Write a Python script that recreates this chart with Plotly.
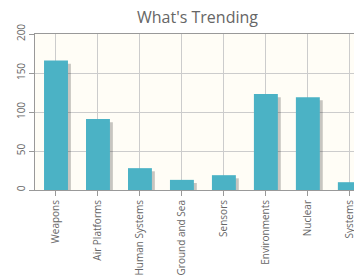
import plotly.graph_objects as go

categories = ["Weapons", "Air Platforms", "Human Systems", "Ground and Sea",
              "Sensors", "Environments", "Nuclear", "Systems"]
values = [166, 91, 28, 13, 19, 123, 119, 10]
y_ticks = [0, 50, 100, 150, 200]

BAR_W = 0.57
SHADOW_DX = 0.07
SHADOW_DY = 4

# the page body adds an 8px margin, so the figure is 8px smaller than the window
PAGE = 8
W, H = 362 - PAGE, 275 - PAGE

fig = go.Figure()
# shadow
fig.add_trace(go.Bar(
    x=list(range(len(categories))),
    y=[max(v - SHADOW_DY, 0) for v in values],
    width=BAR_W, offset=-BAR_W / 2 + SHADOW_DX,
    marker=dict(color="rgba(0,0,0,0.22)", line=dict(width=0)),
    hoverinfo="skip", showlegend=False,
))
fig.add_trace(go.Bar(
    x=list(range(len(categories))),
    y=values,
    width=BAR_W, offset=-BAR_W / 2,
    marker=dict(color="#4bb2c5", line=dict(width=0)),
    showlegend=False,
))

fig.update_layout(
    width=W, height=H,
    margin=dict(l=35 - PAGE, r=0, t=34 - PAGE, b=85, pad=0),
    barmode="overlay",
    paper_bgcolor="white",
    plot_bgcolor="#fffdf6",
    title=dict(text="What's Trending", x=(197.5 - PAGE) / W, xanchor="center",
               xref="container", y=1 - (17 - PAGE) / H, yanchor="middle",
               font=dict(family="Open Sans", size=16, color="#666666")),
    font=dict(family="Open Sans", size=10, color="#666666"),
)
fig.update_xaxes(
    tickmode="array", tickvals=list(range(len(categories))), ticktext=categories,
    range=[-0.5, 7.29], tickson="boundaries", ticks="outside", ticklen=5,
    tickcolor="#999999", tickangle=-90, showgrid=True, gridcolor="#cccccc",
    showline=True, linecolor="#999999", linewidth=1, mirror=True,
    automargin=False, fixedrange=True,
)
fig.update_yaxes(
    range=[0, 200], tickmode="array", tickvals=y_ticks, tickangle=-90,
    ticks="outside", ticklen=5, tickcolor="#999999", showgrid=True,
    gridcolor="#cccccc", showline=True, linecolor="#999999", linewidth=1,
    zeroline=False, automargin=False,
)

fig.write_html("out.html")
